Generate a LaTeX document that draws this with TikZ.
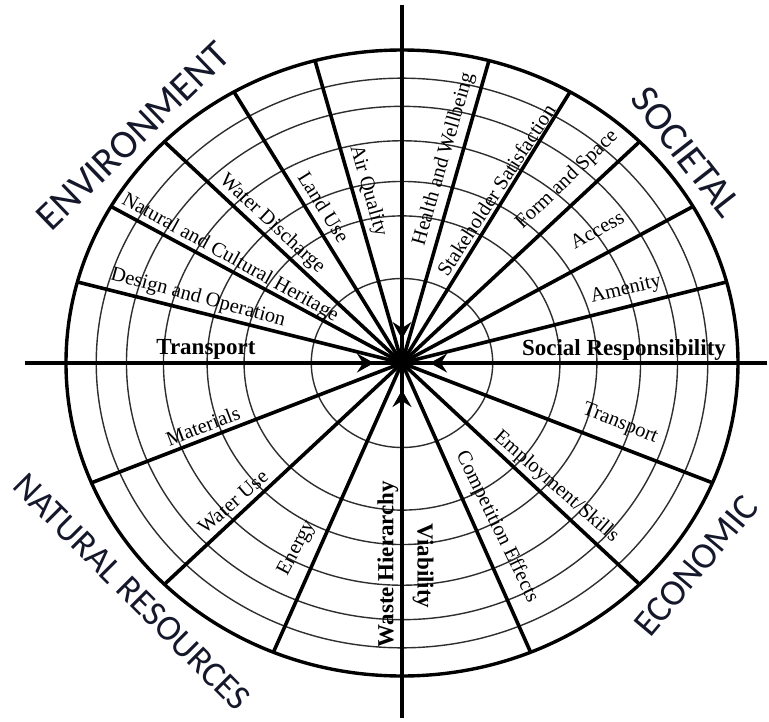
\documentclass[tikz,border=0pt]{standalone}
\usepackage{fontspec}
\setmainfont{Liberation Serif}
\newfontfamily\catfont{Carlito}
\usetikzlibrary{arrows.meta}
\definecolor{cink}{HTML}{15182B}
\definecolor{cring}{HTML}{2E2E2E}
\tikzset{
  ring/.style={draw=cring, line width=1.4pt},
  rim/.style={draw=black, line width=3.4pt},
  spoke/.style={draw=black, line width=3.6pt},
  axis/.style={draw=black, line width=3.4pt},
  axisarrow/.style={axis, -{Stealth[length=17pt, width=19pt, inset=6pt]}},
  item/.style={font=\fontsize{20.5}{22}\selectfont, inner sep=1pt},
  key/.style={font=\fontsize{23}{25}\selectfont\bfseries, inner sep=1pt},
  group/.style={font=\catfont\fontsize{#1}{#1}\selectfont, text=cink, inner sep=0pt},
  group/.default=40,
}

\begin{document}
\begin{tikzpicture}[x=1pt, y=1pt]
  \useasboundingbox (-402,-358) rectangle (367,363);
  \coordinate (c) at (0,0);
  % rings
  \foreach \f in {0.27,0.47,0.58,0.71,0.82,0.91}
    \draw[ring] (c) ellipse ({336*\f} and {313*\f});
  % spokes
  \foreach \a in {105,120,135,150,165,15,30,45,60,75,202.5,225,247.5,-22.5,-45,-67.5}
    \draw[spoke] (c) -- (\a:336 and 313);
  \draw[rim] (c) ellipse (336 and 313);
  % axes with the four heads
  \coordinate (w) at (-377,0);
  \coordinate (e) at (365,0);
  \coordinate (n) at (0,358);
  \coordinate (s) at (0,-355);
  \coordinate (wt) at (-28,0);
  \coordinate (et) at (28,0);
  \coordinate (nt) at (0,24);
  \coordinate (st) at (0,-27);
  \draw[axis] (w) -- (e);
  \draw[axis] (n) -- (s);
  \draw[axisarrow] (w) -- (wt);
  \draw[axisarrow] (e) -- (et);
  \draw[axisarrow] (n) -- (nt);
  \draw[axisarrow] (s) -- (st);
  % environment
  \node[key, anchor=base] (transportw) at (-196,9) {Transport};
  \node[item, rotate=-15] (design) at (-204,65) {Design and Operation};
  \node[item, rotate=-29] (heritage) at (-172,105) {Natural and Cultural Heritage};
  \node[item, rotate=-43] (discharge) at (-130,139) {Water Discharge};
  \node[item, rotate=-58] (landuse) at (-78,156) {Land Use};
  \node[item, rotate=-74] (air) at (-34,172) {Air Quality};
  % societal
  \node[item, rotate=74] (health) at (42,204) {Health and Wellbeing};
  \node[item, rotate=57] (stakeholder) at (94,173) {Stakeholder Satisfaction};
  \node[item, rotate=44] (form) at (165,183) {Form and Space};
  \node[item, rotate=29] (access) at (195,133) {Access};
  \node[item, rotate=13] (amenity) at (224,73) {Amenity};
  \node[key, anchor=base] (social) at (222,8) {Social Responsibility};
  % natural resources
  \node[item, rotate=21] (materials) at (-199,-63) {Materials};
  \node[item, rotate=41] (wateruse) at (-169,-139) {Water Use};
  \node[item, rotate=62] (energy) at (-105,-185) {Energy};
  \node[key, rotate=90] (waste) at (-14,-201) {Waste Hierarchy};
  % economic
  \node[key, rotate=-90] (viability) at (21,-203) {Viability};
  \node[item, rotate=-64] (competition) at (95,-164) {Competition Effects};
  \node[item, rotate=-41] (employment) at (154,-124) {Employment/Skills};
  \node[item, rotate=-22] (transporte) at (218,-61) {Transport};
  % groups
  \node[group, rotate=44] (environment) at (-269,227) {ENVIRONMENT};
  \node[group, rotate=-52] (societal) at (284,211) {SOCIETAL};
  \node[group=36, rotate=-45] (natural) at (-270,-229) {NATURAL RESOURCES};
  \node[group=37, rotate=50] (economic) at (294,-203) {ECONOMIC};
\end{tikzpicture}
\end{document}
